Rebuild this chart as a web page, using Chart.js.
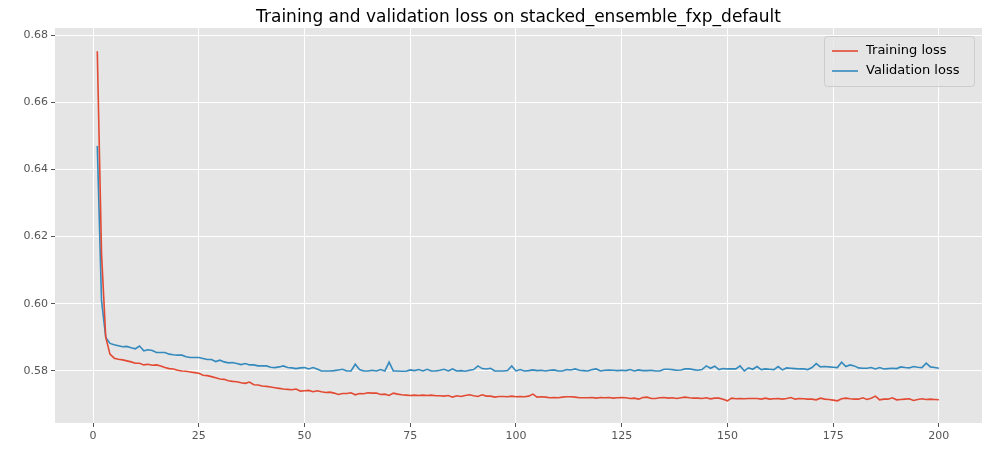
<!DOCTYPE html>
<html><head><meta charset="utf-8">
<script src="https://cdn.jsdelivr.net/npm/chart.js@4"></script>
<style>html,body{margin:0;background:#fff}#wrap{width:990px;height:452px}</style>
</head><body><div id="wrap"><canvas id="c"></canvas></div>
<script>
const trainLoss = [
.6752,.6150,.5900,.5850,.5838,.5835,.5833,.5830,.5827,.5823,
.5823,.5818,.5820,.5817,.5818,.5815,.5810,.5807,.5806,.5802,
.5800,.5799,.5797,.5795,.5793,.5787,.5786,.5783,.5780,.5776,
.5775,.5771,.5769,.5768,.5765,.5763,.5767,.5759,.5758,.5755,
.5754,.5752,.5750,.5748,.5746,.5745,.5744,.5746,.5740,.5741,
.5742,.5738,.5741,.5738,.5736,.5737,.5734,.5730,.5733,.5733,
.5735,.5729,.5733,.5732,.5735,.5734,.5734,.5730,.5731,.5727,
.5734,.5731,.5729,.5728,.5727,.5728,.5727,.5728,.5727,.5728,
.5726,.5726,.5725,.5727,.5722,.5726,.5724,.5727,.5729,.5726,
.5724,.5729,.5725,.5725,.5722,.5724,.5724,.5723,.5725,.5723,
.5724,.5723,.5725,.5731,.5722,.5723,.5722,.5720,.5721,.5720,
.5722,.5723,.5723,.5722,.5720,.5720,.5720,.5721,.5719,.5721,
.5720,.5721,.5719,.5720,.5721,.5720,.5718,.5719,.5716,.5721,
.5722,.5718,.5718,.5720,.5721,.5719,.5720,.5718,.5720,.5722,
.5720,.5719,.5719,.5718,.5720,.5717,.5719,.5719,.5716,.5711,
.5719,.5717,.5718,.5717,.5718,.5718,.5718,.5716,.5719,.5716,
.5717,.5718,.5716,.5718,.5721,.5716,.5718,.5717,.5716,.5716,
.5714,.5719,.5716,.5715,.5713,.5711,.5717,.5719,.5717,.5716,
.5716,.5720,.5715,.5719,.5725,.5714,.5716,.5716,.5720,.5714,
.5715,.5716,.5717,.5712,.5715,.5717,.5715,.5716,.5715,.5714];
const valLoss = [
.6470,.6010,.5900,.5882,.5878,.5875,.5872,.5873,.5869,.5866,
.5874,.5860,.5863,.5861,.5855,.5855,.5855,.5850,.5848,.5847,
.5847,.5842,.5840,.5840,.5840,.5837,.5834,.5834,.5828,.5832,
.5827,.5824,.5825,.5822,.5819,.5822,.5818,.5818,.5815,.5815,
.5815,.5811,.5810,.5812,.5815,.5810,.5809,.5807,.5809,.5810,
.5806,.5810,.5806,.5800,.5800,.5800,.5801,.5803,.5805,.5800,
.5800,.5820,.5804,.5800,.5800,.5802,.5800,.5804,.5800,.5826,
.5800,.5800,.5799,.5799,.5803,.5801,.5804,.5800,.5805,.5800,
.5800,.5802,.5805,.5800,.5806,.5800,.5801,.5799,.5802,.5804,
.5815,.5807,.5806,.5808,.5800,.5800,.5800,.5801,.5815,.5800,
.5804,.5800,.5801,.5803,.5801,.5802,.5800,.5802,.5803,.5800,
.5800,.5804,.5803,.5806,.5802,.5801,.5800,.5804,.5806,.5800,
.5802,.5803,.5802,.5801,.5802,.5801,.5804,.5800,.5803,.5801,
.5801,.5802,.5800,.5800,.5805,.5805,.5804,.5802,.5803,.5806,
.5806,.5804,.5802,.5804,.5815,.5808,.5814,.5804,.5807,.5806,
.5806,.5806,.5815,.5800,.5809,.5805,.5813,.5804,.5806,.5805,
.5804,.5813,.5803,.5809,.5808,.5807,.5806,.5806,.5804,.5810,
.5822,.5812,.5813,.5812,.5811,.5810,.5826,.5813,.5818,.5815,
.5809,.5808,.5808,.5810,.5806,.5810,.5806,.5807,.5808,.5807,
.5812,.5810,.5809,.5813,.5811,.5810,.5823,.5812,.5810,.5808];
const epochs = trainLoss.map((_, i) => i + 1);
const seriesNames = ['Training loss', 'Validation loss'];
const seriesColors = ['#E24A33', '#348ABD'];

const font = 'DejaVu Sans';

const ggplotLook = {
  id: 'ggplotLook',
  beforeDraw(chart) {
    const { ctx, chartArea: a } = chart;
    ctx.save();
    ctx.fillStyle = '#E5E5E5';
    ctx.fillRect(a.left, a.top, a.right - a.left, a.bottom - a.top);
    ctx.restore();
  },
  afterDraw(chart) {
    const { ctx, chartArea: a } = chart;
    ctx.save();
    ctx.fillStyle = '#000';
    ctx.font = '17px "' + font + '"';
    ctx.textAlign = 'center';
    ctx.textBaseline = 'middle';
    ctx.fillText('Training and validation loss on stacked_ensemble_fxp_default', (a.left + a.right) / 2, 18);
    // legend box inside top right
    const w = 150, h = 50, x = a.right - w - 8, y = a.top + 8;
    ctx.fillStyle = 'rgba(229,229,229,0.8)';
    ctx.strokeStyle = '#ccc';
    ctx.lineWidth = 1;
    ctx.beginPath();
    ctx.roundRect(x + 0.5, y + 0.5, w, h, 3);
    ctx.fill(); ctx.stroke();
    ctx.font = '13px "' + font + '"';
    ctx.textAlign = 'left';
    seriesNames.forEach((n, i) => {
      const ly = y + 15 + i * 20;
      ctx.strokeStyle = seriesColors[i];
      ctx.lineWidth = 1.6;
      ctx.beginPath(); ctx.moveTo(x + 8, ly); ctx.lineTo(x + 34, ly); ctx.stroke();
      ctx.fillStyle = '#000';
      ctx.fillText(n, x + 42, ly);
    });
    ctx.restore();
  }
};

new Chart(document.getElementById('c'), {
  type: 'line',
  data: {
    labels: epochs,
    datasets: [trainLoss, valLoss].map((d, i) => ({
      label: seriesNames[i],
      data: d.map((v, j) => ({ x: epochs[j], y: v })),
      borderColor: seriesColors[i],
      borderWidth: 1.6,
      pointRadius: 0,
      tension: 0
    }))
  },
  options: {
    responsive: true,
    maintainAspectRatio: false,
    animation: false,
    layout: { padding: { top: 28, right: 8, left: 0, bottom: 0 } },
    plugins: { legend: { display: false }, title: { display: false }, tooltip: { enabled: false } },
    scales: {
      x: {
        type: 'linear', min: -9, max: 210.2,
        afterBuildTicks: s => { s.ticks = [0, 25, 50, 75, 100, 125, 150, 175, 200].map(v => ({ value: v })); },
        afterFit: s => { s.height = 29; },
        grid: { color: '#fff', lineWidth: 1, tickColor: '#555', tickLength: 4 },
        border: { display: false },
        ticks: { color: '#555', font: { family: font, size: 11 }, padding: 3, maxRotation: 0 }
      },
      y: {
        min: 0.5645, max: 0.6821,
        afterBuildTicks: s => { s.ticks = [0.58, 0.60, 0.62, 0.64, 0.66, 0.68].map(v => ({ value: v })); },
        afterFit: s => { s.width = 55; },
        grid: { color: '#fff', lineWidth: 1, tickColor: '#555', tickLength: 4 },
        border: { display: false },
        ticks: { color: '#555', font: { family: font, size: 11 }, padding: 3, callback: v => v.toFixed(2) }
      }
    }
  },
  plugins: [ggplotLook]
});
</script></body></html>
